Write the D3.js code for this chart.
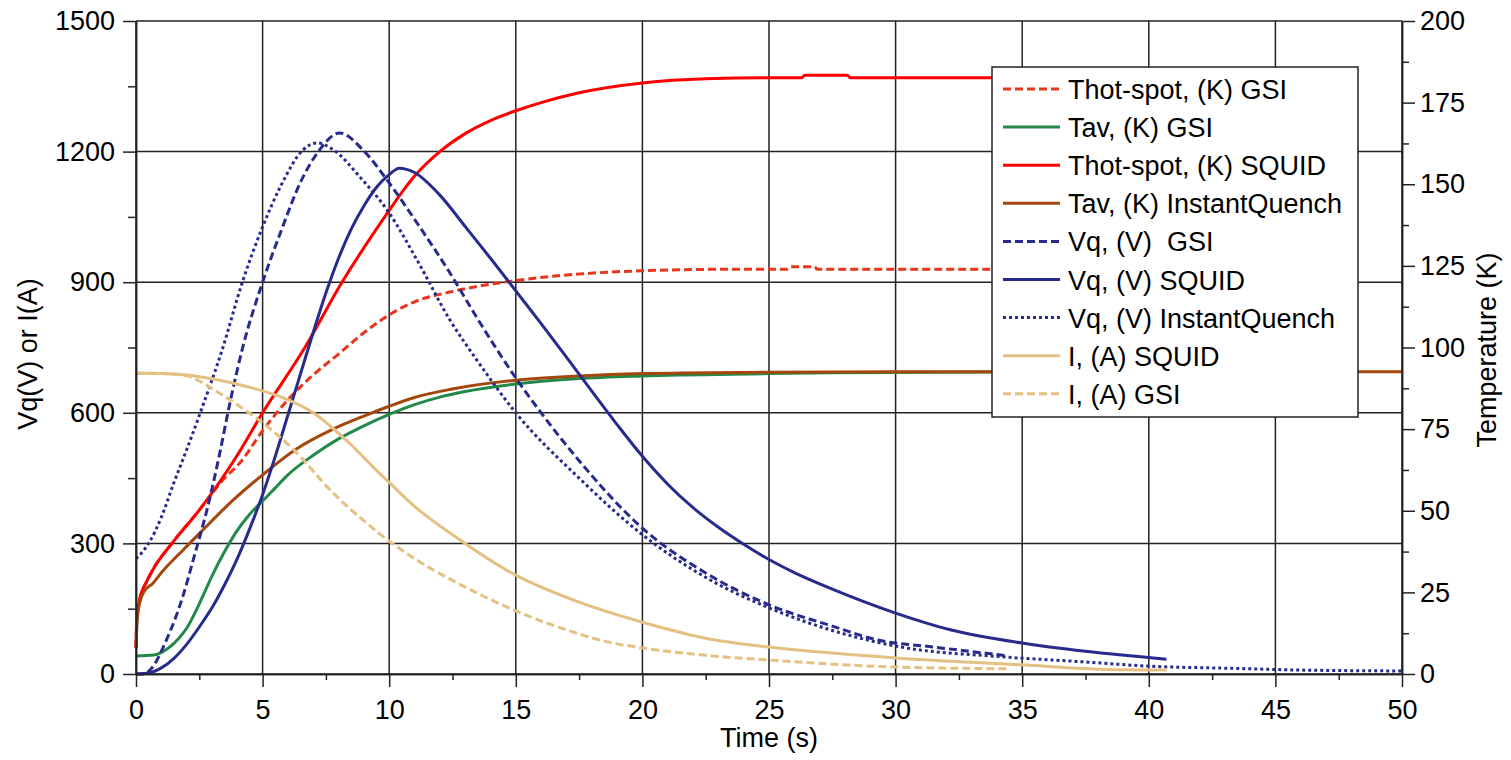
<!DOCTYPE html>
<html>
<head>
<meta charset="utf-8">
<script src="https://cdn.jsdelivr.net/npm/d3@7"></script>
<style>
body { margin: 0; background: #fff; }
svg text { font-family: "Liberation Sans", Arial, sans-serif; fill: #000; }
</style>
</head>
<body>
<svg id="chart" width="1511" height="760"></svg>
<script>

// Temperatures (K, right axis)
var timeHotGsi = [0, 0.03, 0.15, 0.4, 0.67, 1.46, 2.5, 3.5, 4.1, 5, 6, 7, 8, 9, 10, 11, 12.4, 15, 17.5, 20, 24, 25.7, 25.8, 26.8, 26.9, 34.4];
var hotGsi = [8, 17, 23, 28, 32, 40.4, 50.2, 60, 64.6, 74.5, 84, 91.6, 98, 104.5, 110, 114, 117, 120.5, 122.5, 123.5, 124, 124, 124.7, 124.7, 124, 124];

var timeAvGsi = [0, 0.7, 1.2, 1.86, 2, 2.5, 3, 3.5, 4, 4.5, 5, 5.5, 6, 7, 8, 9, 10, 11, 12, 13, 15, 17.5, 20, 25, 27.5, 34.4];
var avGsi = [5.5, 5.8, 7.5, 12.5, 14, 21.5, 30, 37.5, 44, 49, 53, 57, 61, 67, 72, 76, 79.5, 82.5, 84.8, 86.5, 88.8, 90.5, 91.3, 92, 92.3, 92.5];

var timeHotSquid = [0, 0.03, 0.15, 0.4, 0.67, 1.46, 2.5, 4, 5, 6.67, 8.1, 10, 10.5, 11, 12, 13, 14, 15, 16, 17.5, 20, 22.5, 25, 26.3, 26.4, 28.1, 28.2, 40.7];
var hotSquid = [8, 17, 23, 28, 32, 40.4, 50.2, 67, 80, 100, 119.5, 142, 147.5, 152.5, 160, 165.5, 169.5, 172.5, 175, 178, 181, 182.3, 182.6, 182.6, 183.4, 183.4, 182.6, 182.6];

var timeAvIq = [0, 0.03, 0.1, 0.3, 0.67, 1, 1.86, 2.5, 3.8, 5, 6.35, 7.7, 9, 10, 11, 12.5, 15, 17.5, 20, 25, 30, 50];
var avIq = [8, 14, 20, 25, 27.8, 31, 38, 43, 53, 61, 69, 74.7, 79, 82, 84.7, 87.3, 90, 91.3, 92, 92.4, 92.6, 92.6];

// Voltages (V) and currents (A), left axis
var timeVqGsi = [0, 0.3, 0.6, 1.2, 1.86, 2.25, 2.9, 3.3, 3.7, 4.2, 5, 5.7, 6.5, 7.2, 8.05, 8.96, 10, 11.1, 12.4, 13.5, 15, 16, 17.5, 20, 22.5, 25, 27.5, 29.3, 31.5, 34.4];
var vqGsi = [0, 0, 12, 78, 180, 260, 400, 505, 620, 747, 900, 1013, 1130, 1200, 1243, 1204, 1128, 1036, 921, 815, 680, 600, 490, 335, 232, 159, 110, 78, 62, 42];

var timeVqSquid = [0, 0.55, 1, 1.5, 2, 2.5, 3, 3.5, 4, 4.5, 5, 5.5, 6, 6.5, 7, 7.5, 8, 8.5, 9, 9.5, 10, 10.4, 11, 12, 13, 14, 15, 16, 17, 18, 19, 20, 21, 22, 23, 24, 25, 26, 27.5, 30, 32.2, 35, 37.5, 40.7];
var vqSquid = [0, 3, 14, 36, 68, 108, 152, 205, 265, 335, 412, 500, 595, 690, 785, 875, 955, 1022, 1075, 1118, 1147, 1162, 1152, 1100, 1028, 955, 880, 805, 728, 650, 573, 500, 436, 382, 337, 298, 263, 233, 195, 140, 101, 71, 52, 34];

var timeVqIq = [0, 0.5, 1, 1.5, 2, 2.6, 3.4, 4.2, 5, 5.7, 6.6, 7.15, 7.8, 8.84, 10, 11.1, 12.4, 13.5, 15, 17.5, 20, 22.5, 25, 27.5, 30.2, 34.1, 37.4, 40, 43.3, 46, 50];
var vqIq = [265, 300, 360, 440, 515, 610, 744, 900, 1027, 1119, 1204, 1220, 1204, 1142, 1059, 951, 813, 718, 600, 450, 320, 222, 152, 100, 62, 40, 28, 18, 13, 9, 7];

var timeISquid = [0, 1, 2, 3, 4.4, 5.7, 7, 8.3, 9.6, 10, 11, 12.5, 15, 17.5, 20, 22.7, 25, 30, 35, 38, 40.7];
var iSquid = [691, 690.5, 687, 678, 660, 637, 600, 537, 462, 440, 385, 320, 227, 165, 119, 80, 62, 37, 21, 11, 9];

var timeIGsi = [0, 1, 2, 2.5, 3, 3.7, 5, 6.35, 7.66, 8.96, 10, 11, 12.5, 15, 17.5, 18.3, 20, 22.5, 25, 30, 34.4];
var iGsi = [691, 690.5, 685, 673, 656, 630, 577, 508, 423, 354, 305, 265, 215, 145, 92, 78, 60, 43, 32, 16, 12];

// Axis ticks
var timeTicks = [0, 5, 10, 15, 20, 25, 30, 35, 40, 45, 50];
var leftTicks = [0, 300, 600, 900, 1200, 1500];
var rightTicks = [0, 25, 50, 75, 100, 125, 150, 175, 200];

var legendNames = ["Thot-spot, (K) GSI", "Tav, (K) GSI", "Thot-spot, (K) SQUID", "Tav, (K) InstantQuench",
    "Vq, (V)  GSI", "Vq, (V) SQUID", "Vq, (V) InstantQuench", "I, (A) SQUID", "I, (A) GSI"];

var plotLeft = 136, plotRight = 1402, plotTop = 21, plotBottom = 674;

var svg = d3.select("#chart");

var x = d3.scaleLinear().domain([0, 50]).range([plotLeft, plotRight]);
var yLeft = d3.scaleLinear().domain([0, 1500]).range([plotBottom, plotTop]);
var yRight = d3.scaleLinear().domain([0, 200]).range([plotBottom, plotTop]);

var red = "#ff0000", redDash = "#e8361c", green = "#23894b", brown = "#a5470d",
    navy = "#262b8c", tan = "#e5c083";

var series = [
    {t: timeHotGsi, v: hotGsi, axis: "right", color: redDash, dash: "8,4"},
    {t: timeAvGsi, v: avGsi, axis: "right", color: green, dash: null},
    {t: timeHotSquid, v: hotSquid, axis: "right", color: red, dash: null},
    {t: timeAvIq, v: avIq, axis: "right", color: brown, dash: null},
    {t: timeVqGsi, v: vqGsi, axis: "left", color: navy, dash: "8,4"},
    {t: timeVqSquid, v: vqSquid, axis: "left", color: navy, dash: null},
    {t: timeVqIq, v: vqIq, axis: "left", color: navy, dash: "3,3"},
    {t: timeISquid, v: iSquid, axis: "left", color: tan, dash: null},
    {t: timeIGsi, v: iGsi, axis: "left", color: tan, dash: "8,4"}
];

// grid
var grid = svg.append("g");
grid.selectAll("line.gx")
    .data(timeTicks)
    .enter()
    .append("line")
    .attr("x1", function(d) { return x(d); })
    .attr("x2", function(d) { return x(d); })
    .attr("y1", plotTop)
    .attr("y2", plotBottom)
    .attr("stroke", "#222")
    .attr("stroke-width", 1.5);
grid.selectAll("line.gy")
    .data(leftTicks)
    .enter()
    .append("line")
    .attr("x1", plotLeft)
    .attr("x2", plotRight)
    .attr("y1", function(d) { return yLeft(d); })
    .attr("y2", function(d) { return yLeft(d); })
    .attr("stroke", "#222")
    .attr("stroke-width", 1.5);

// curves
series.forEach(function(s) {
    var yScale = s.axis == "left" ? yLeft : yRight;
    var pts = s.t.map(function(d, i) { return [d, s.v[i]]; });
    var line = d3.line()
        .x(function(d) { return x(d[0]); })
        .y(function(d) { return yScale(d[1]); })
        .curve(d3.curveMonotoneX);
    svg.append("path")
        .attr("d", line(pts))
        .attr("fill", "none")
        .attr("stroke", s.color)
        .attr("stroke-width", 3)
        .attr("stroke-dasharray", s.dash);
});

// axes
function styleAxis(g) {
    g.selectAll("path").attr("stroke", "#222").attr("stroke-width", 1.5);
    g.selectAll("line").attr("stroke", "#222").attr("stroke-width", 1.5);
    g.selectAll("text").attr("font-size", "27px").attr("fill", "#000")
        .attr("font-family", "Liberation Sans, Arial, sans-serif");
}

function minorOf(ticks) {
    var out = [];
    for (var i = 0; i < ticks.length - 1; i++) {
        out.push((ticks[i] + ticks[i + 1]) / 2);
    }
    return out;
}

var fmt = d3.format("d");

svg.append("g")
    .attr("transform", "translate(" + plotLeft + ",0)")
    .call(d3.axisLeft(yLeft).tickValues(minorOf(leftTicks)).tickSize(8).tickSizeOuter(0).tickFormat(""))
    .call(styleAxis);
svg.append("g")
    .attr("transform", "translate(" + plotLeft + ",0)")
    .call(d3.axisLeft(yLeft).tickValues(leftTicks).tickSize(13).tickSizeOuter(0).tickPadding(8).tickFormat(fmt))
    .call(styleAxis);

svg.append("g")
    .attr("transform", "translate(" + plotRight + ",0)")
    .call(d3.axisRight(yRight).tickValues(minorOf(rightTicks)).tickSize(7).tickSizeOuter(0).tickFormat(""))
    .call(styleAxis);
svg.append("g")
    .attr("transform", "translate(" + plotRight + ",0)")
    .call(d3.axisRight(yRight).tickValues(rightTicks).tickSize(13).tickSizeOuter(0).tickPadding(5).tickFormat(fmt))
    .call(styleAxis);

svg.append("g")
    .attr("transform", "translate(0," + plotBottom + ")")
    .call(d3.axisBottom(x).tickValues(minorOf(timeTicks)).tickSize(6).tickSizeOuter(0).tickFormat(""))
    .call(styleAxis);
svg.append("g")
    .attr("transform", "translate(0," + plotBottom + ")")
    .call(d3.axisBottom(x).tickValues(timeTicks).tickSize(13).tickSizeOuter(0).tickPadding(13).tickFormat(fmt))
    .call(styleAxis);

// axis titles
svg.append("text")
    .attr("x", (plotLeft + plotRight) / 2)
    .attr("y", 747)
    .attr("text-anchor", "middle")
    .attr("font-size", "27px")
    .text("Time (s)");
svg.append("text")
    .attr("transform", "translate(37,354) rotate(-90)")
    .attr("text-anchor", "middle")
    .attr("font-size", "27px")
    .text("Vq(V) or I(A)");
svg.append("text")
    .attr("transform", "translate(1496,350) rotate(-90)")
    .attr("text-anchor", "middle")
    .attr("font-size", "27px")
    .text("Temperature (K)");

// legend
var legend = svg.append("g");
legend.append("rect")
    .attr("x", 992)
    .attr("y", 67)
    .attr("width", 366)
    .attr("height", 350)
    .attr("fill", "#fff")
    .attr("stroke", "#222")
    .attr("stroke-width", 1.5);

var rows = legend.selectAll("g.row")
    .data(series)
    .enter()
    .append("g")
    .attr("transform", function(d, i) { return "translate(0," + (89 + i * 38.1) + ")"; });
rows.append("line")
    .attr("x1", 1003)
    .attr("x2", 1060)
    .attr("y1", 0)
    .attr("y2", 0)
    .attr("stroke", function(d) { return d.color; })
    .attr("stroke-width", 3)
    .attr("stroke-dasharray", function(d) { return d.dash; });
rows.append("text")
    .attr("x", 1068)
    .attr("y", 10)
    .attr("font-size", "27px")
    .style("white-space", "pre")
    .text(function(d, i) { return legendNames[i]; });

</script>
</body>
</html>
